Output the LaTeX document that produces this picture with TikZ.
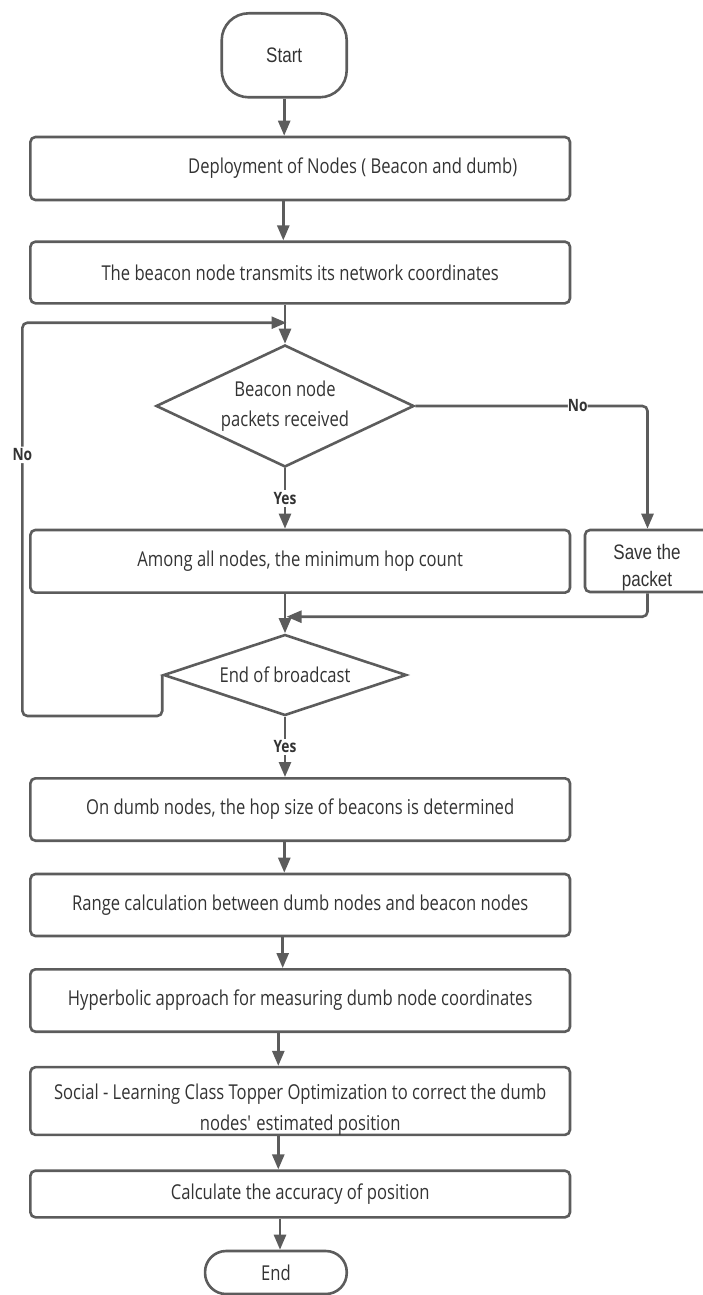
\documentclass[tikz,border=0pt]{standalone}
\usepackage{fontspec}
\setmainfont{Open Sans}[FakeStretch=0.81]
\newfontfamily\arialc{Liberation Sans}[FakeStretch=0.81]
\usetikzlibrary{shapes.geometric,arrows.meta}
\definecolor{lc}{RGB}{92,92,92}
\definecolor{tc}{RGB}{51,51,51}
\begin{document}
\begin{tikzpicture}[x=1pt,y=-1pt,
  ln/.style={draw=lc,line width=2.6pt},
  arr/.style={ln,-{Triangle[length=15pt,width=12pt]}},
  proc/.style={ln,rounded corners=5pt,minimum width=539.6pt,inner sep=0pt,text=tc,font=\fontsize{20.5}{30}\selectfont},
  term/.style={ln,inner sep=0pt,text=tc},
  dec/.style={ln,diamond,inner sep=0pt,text=tc,align=center,font=\fontsize{20.5}{30}\selectfont},
  txt/.style={inner sep=0pt,text=tc,align=center},
  lbl/.style={fill=white,inner sep=2pt,text=tc,font=\bfseries\fontsize{17}{17}\selectfont}]
\useasboundingbox (0,0) rectangle (702,1295);

\node[term,minimum width=125pt,minimum height=84pt,rounded corners=27pt,font=\arialc\fontsize{21}{21}\selectfont] (start) at (284.2,55.3) {Start};
\node[proc,minimum height=63pt] (b1) at (300.2,168.5) {\hspace*{105pt}Deployment of Nodes ( Beacon and dumb)};
\node[proc,minimum height=61.6pt] (b2) at (300.2,272.5) {The beacon node transmits its network coordinates};
\coordinate (m1) at (286.5,322.7);
\node[dec,aspect=2.1,minimum width=258pt,minimum height=122pt] (d1) at (285,406) {Beacon node\\packets received};
\node[proc,minimum height=62.7pt] (b3) at (300.2,561.3) {Among all nodes, the minimum hop count};
\node[proc,minimum width=125pt,minimum height=62pt] (save) at (647.5,561) {};
\node[txt,font=\arialc\fontsize{21}{27}\selectfont] (savet) at (647,568) {Save the\\packet};
\coordinate (m2) at (286.5,616.7);
\node[dec,aspect=3,minimum width=243pt,minimum height=81pt] (d2) at (285,675) {End of broadcast};
\coordinate (lp) at (22.4,716);
\node[proc,minimum height=62.4pt] (b4) at (300.2,809.5) {On dumb nodes, the hop size of beacons is determined};
\node[proc,minimum height=62pt] (b5) at (300.2,905) {Range calculation between dumb nodes and beacon nodes};
\node[proc,minimum height=62.4pt] (b6) at (300.2,1000.5) {Hyperbolic approach for measuring dumb node coordinates};
\node[proc,minimum height=67.7pt] (b7) at (300.2,1101) {};
\node[txt,font=\fontsize{20.5}{31}\selectfont] (b7t) at (300.2,1110) {Social - Learning Class Topper Optimization to correct the dumb\\nodes\textquotesingle{} estimated position};
\node[proc,minimum height=46.6pt] (b8) at (300.2,1194) {Calculate the accuracy of position};
\node[term,minimum width=141.7pt,minimum height=43pt,rounded corners=21pt,font=\fontsize{20.5}{25}\selectfont] (end) at (275.9,1272.5) {End};

\draw[arr] (start.south) -- (start.south |- b1.north);
\draw[arr] ([xshift=-16.9pt]b1.south) -- ([xshift=-16.9pt]b2.north);
\draw[arr] (b2.south -| d1.north) -- (d1.north);
\draw[arr] (d1.south) -- node[lbl]{Yes} (d1.south |- b3.north);
\draw[arr,rounded corners=5pt] (d1.east) -| node[lbl,pos=0.35,inner sep=0pt]{No} (save.north);
\draw[arr,rounded corners=5pt] (save.south) |- (m2);
\draw[arr] (b3.south -| d2.north) -- (d2.north);
\draw[arr,rounded corners=5pt] (d2.west) |- (lp) |- node[lbl,pos=0.332]{No} (m1);
\draw[arr] (d2.south) -- node[lbl]{Yes} (d2.south |- b4.north);
\draw[arr] ([xshift=-15.9pt]b4.south) -- ([xshift=-15.9pt]b5.north);
\draw[arr] ([xshift=-17.5pt]b5.south) -- ([xshift=-17.5pt]b6.north);
\draw[arr] ([xshift=-21.9pt]b6.south) -- ([xshift=-21.9pt]b7.north);
\draw[arr] ([xshift=-21.9pt]b7.south) -- ([xshift=-21.9pt]b8.north);
\draw[arr] ([xshift=-20.2pt]b8.south) -- ([xshift=-20.2pt]b8.south |- end.north);
\end{tikzpicture}
\end{document}
